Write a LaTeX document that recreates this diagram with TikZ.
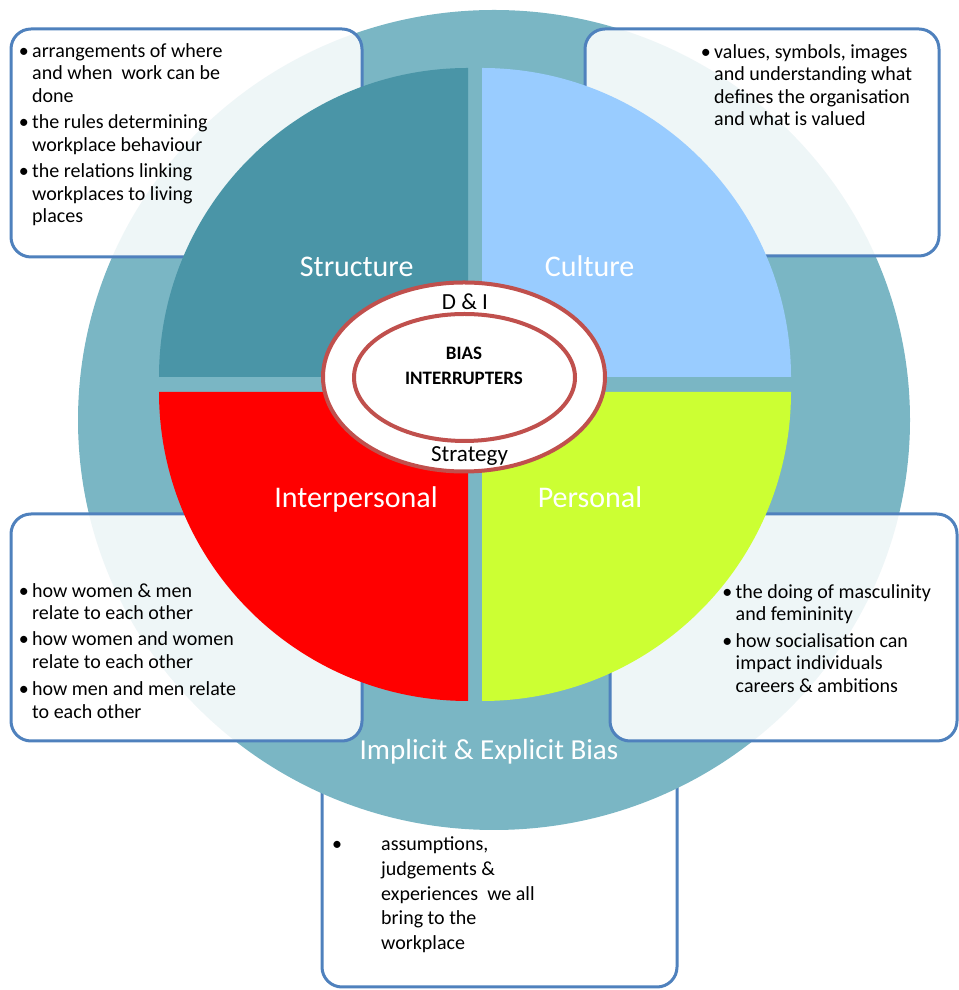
\documentclass[tikz,border=0pt]{standalone}
\usepackage{fontspec}
\setmainfont{Carlito}
\usetikzlibrary{shapes.geometric}
\definecolor{ring}{RGB}{122,182,196}
\definecolor{structc}{RGB}{74,149,167}
\definecolor{cultc}{RGB}{153,204,255}
\definecolor{interc}{RGB}{255,0,0}
\definecolor{persc}{RGB}{204,255,51}
\definecolor{boxline}{RGB}{79,129,189}
\definecolor{ellline}{RGB}{192,80,77}
\begin{document}
\begin{tikzpicture}[x=1pt,y=1pt,
  infobox/.style={draw=boxline, line width=3pt, fill=white, fill opacity=0.88, rounded corners=20pt},
  boxtext/.style={anchor=base west, align=left, inner sep=0pt, font=\fontsize{20}{22.6}\selectfont, text=black},
  quadlabel/.style={anchor=base, text=white, inner sep=0pt, font=\fontsize{30}{36}\selectfont},
  ell/.style={draw=ellline, line width=4pt, fill=white, ellipse, inner sep=0pt},
  midtext/.style={anchor=base, inner sep=0pt, text=black, font=\fontsize{23}{27}\selectfont}]
\useasboundingbox (0,0) rectangle (958,990);

% bottom box (under the ring)
\draw[infobox] (322,3) rectangle (677,230);

% outer ring
\fill[ring] (494,570) ellipse [x radius=416, y radius=410];

% info boxes over the ring
\draw[infobox] (11,733) rectangle (362,961);
\draw[infobox] (585,734) rectangle (939,961);
\draw[infobox] (11,249) rectangle (362,476);
\draw[infobox] (610,249) rectangle (957,476);

% quadrants
\fill[structc] (468,613) -- (159,613) arc[start angle=180, end angle=90, radius=309] -- cycle;
\fill[cultc] (482,613) -- (482,922) arc[start angle=90, end angle=0, radius=309] -- cycle;
\fill[interc] (468,598) -- (159,598) arc[start angle=180, end angle=270, radius=309] -- cycle;
\fill[persc] (482,598) -- (791,598) arc[start angle=0, end angle=-90, radius=309] -- cycle;

% quadrant labels
\node[quadlabel] (lstruct) at (356.7,713.3) {Structure};
\node[quadlabel] (lcult) at (589.7,713.3) {Culture};
\node[quadlabel] (linter) at (356,482) {Interpersonal};
\node[quadlabel] (lpers) at (590,482) {Personal};
\node[quadlabel, font=\fontsize{29}{34}\selectfont] (lbias) at (489,230) {Implicit \& Explicit Bias};

% central ellipses
\node[ell, minimum width=282, minimum height=189] (outerell) at (464,613) {};
\node[ell, minimum width=221, minimum height=127] (innerell) at (464.5,612.5) {};
\node[midtext] (dai) at (465,680) {D \& I};
\node[midtext] (strat) at (469.5,528.3) {Strategy};
\node[anchor=base, inner sep=0pt, align=center, font=\fontsize{19}{25}\bfseries\selectfont] (bias) at (464,605.7) {BIAS\\INTERRUPTERS};

% box texts (base = baseline of last line)
\node[boxtext] (tltext) at (32,767.3) {\llap{\textbullet\,}arrangements of where\\and when\ \ work can be\\done\\[3.7pt]\llap{\textbullet\,}the rules determining\\workplace behaviour\\[3.7pt]\llap{\textbullet\,}the relations linking\\workplaces to living\\places};
\node[boxtext] (trtext) at (714,864) {\llap{\textbullet\,}values, symbols, images\\and understanding what\\defines the organisation\\and what is valued};
\node[boxtext] (bltext) at (32,271.7) {\llap{\textbullet\,}how women \& men\\relate to each other\\[3.7pt]\llap{\textbullet\,}how women and women\\relate to each other\\[4.5pt]\llap{\textbullet\,}how men and men relate\\to each other};
\node[boxtext] (brtext) at (735.5,297.7) {\llap{\textbullet\,}the doing of masculinity\\and femininity\\[3.7pt]\llap{\textbullet\,}how socialisation can\\impact individuals\\careers \& ambitions};
\node[boxtext, font=\fontsize{20}{24.6}\selectfont] (bttext) at (381,40.7) {\llap{\textbullet\hspace{39pt}}assumptions,\\judgements \&\\experiences\ \ we all\\bring to the\\workplace};
\end{tikzpicture}
\end{document}
